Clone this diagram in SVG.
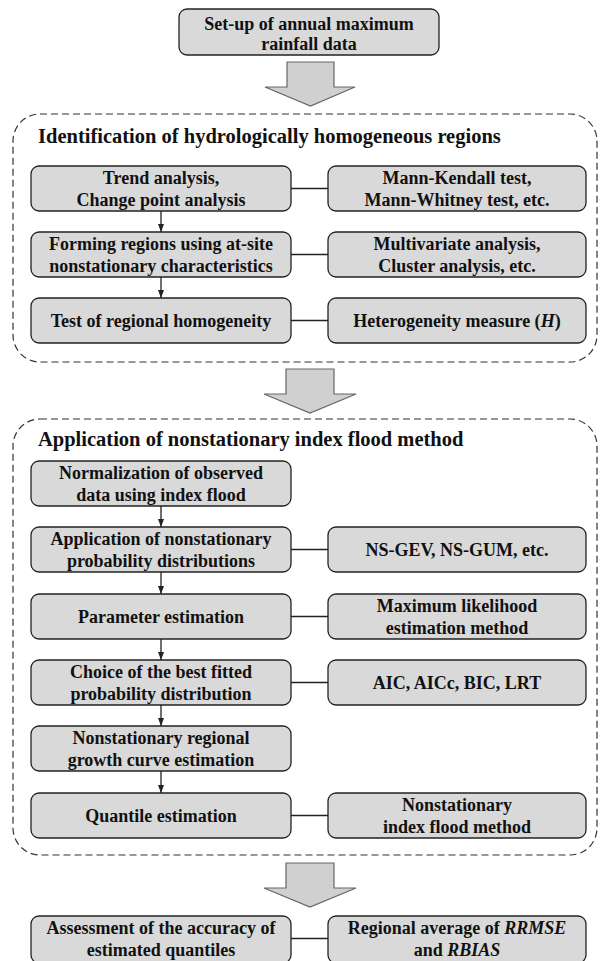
<svg xmlns="http://www.w3.org/2000/svg" width="608" height="961" viewBox="0 0 608 961">
<style>
text{font-family:"Liberation Serif","Times New Roman",serif;font-weight:bold;font-size:18px;fill:#111;text-anchor:middle}
.title{font-size:20.5px;text-anchor:start}
.box{fill:#d9d9d9;stroke:#222;stroke-width:1.3}
.cont{fill:none;stroke:#333;stroke-width:1.2;stroke-dasharray:7 4}
.blk{fill:#d0d0d0;stroke:#666;stroke-width:1.2}
.ln{stroke:#222;stroke-width:1.3;fill:none}
.ar{stroke:#222;stroke-width:1.3;fill:none;marker-end:url(#ah)}
.it{font-style:italic}
</style>
<defs>
<marker id="ah" markerWidth="8" markerHeight="8" viewBox="0 0 8 8" refX="8" refY="4" orient="auto" markerUnits="userSpaceOnUse">
<path d="M0,1 L8,4 L0,7 Z" fill="#222"/>
</marker>
</defs>

<g id="containers">
<rect id="region1" class="cont" x="13" y="114" width="584" height="248" rx="27"/>
<rect id="region2" class="cont" x="13" y="419" width="584" height="436" rx="27"/>
<text class="title" x="38" y="143">Identification of hydrologically homogeneous regions</text>
<text class="title" x="38" y="446">Application of nonstationary index flood method</text>
</g>

<g id="block-arrows">
<path class="blk" d="M287,62 H334 V87 H355 L310.5,106 L265,87 H287 Z"/>
<path class="blk" d="M286,369 H334 V394 H356 L310,413 L264,394 H286 Z"/>
<path class="blk" d="M286,863 H334 V888 H356 L310,907 L264,888 H286 Z"/>
</g>

<g id="connectors">
<line class="ar" x1="161" y1="211" x2="161" y2="232"/>
<line class="ar" x1="161" y1="277" x2="161" y2="298"/>
<line class="ar" x1="161" y1="506" x2="161" y2="527"/>
<line class="ar" x1="161" y1="572" x2="161" y2="594"/>
<line class="ar" x1="161" y1="639" x2="161" y2="660"/>
<line class="ar" x1="161" y1="705" x2="161" y2="726"/>
<line class="ar" x1="161" y1="771" x2="161" y2="793"/>
<line class="ln" x1="291" y1="188.5" x2="328" y2="188.5"/>
<line class="ln" x1="291" y1="254.5" x2="328" y2="254.5"/>
<line class="ln" x1="291" y1="320.5" x2="328" y2="320.5"/>
<line class="ln" x1="291" y1="549.5" x2="328" y2="549.5"/>
<line class="ln" x1="291" y1="616.5" x2="328" y2="616.5"/>
<line class="ln" x1="291" y1="682.5" x2="328" y2="682.5"/>
<line class="ln" x1="291" y1="815.5" x2="328" y2="815.5"/>
<line class="ln" x1="291" y1="938.5" x2="328" y2="938.5"/>
</g>

<g id="n-setup">
<rect class="box" x="179" y="9" width="260" height="46" rx="8"/>
<text x="309" y="30">Set-up of annual maximum</text>
<text x="309" y="50">rainfall data</text>
</g>

<g id="n-trend">
<rect class="box" x="31" y="166" width="260" height="45" rx="8"/>
<text x="161" y="184">Trend analysis,</text>
<text x="161" y="206">Change point analysis</text>
</g>
<g id="n-mk">
<rect class="box" x="328" y="166" width="258" height="45" rx="8"/>
<text x="457" y="184">Mann-Kendall test,</text>
<text x="457" y="206">Mann-Whitney test, etc.</text>
</g>
<g id="n-forming">
<rect class="box" x="31" y="232" width="260" height="45" rx="8"/>
<text x="161" y="250">Forming regions using at-site</text>
<text x="161" y="272">nonstationary characteristics</text>
</g>
<g id="n-multi">
<rect class="box" x="328" y="232" width="258" height="45" rx="8"/>
<text x="457" y="250">Multivariate analysis,</text>
<text x="457" y="272">Cluster analysis, etc.</text>
</g>
<g id="n-test">
<rect class="box" x="31" y="298" width="260" height="45" rx="8"/>
<text x="161" y="327">Test of regional homogeneity</text>
</g>
<g id="n-hetero">
<rect class="box" x="328" y="298" width="258" height="45" rx="8"/>
<text x="457" y="327">Heterogeneity measure (<tspan class="it">H</tspan>)</text>
</g>

<g id="n-norm">
<rect class="box" x="31" y="461" width="260" height="45" rx="8"/>
<text x="161" y="479">Normalization of observed</text>
<text x="161" y="501">data using index flood</text>
</g>
<g id="n-appl">
<rect class="box" x="31" y="527" width="260" height="45" rx="8"/>
<text x="161" y="545">Application of nonstationary</text>
<text x="161" y="567">probability distributions</text>
</g>
<g id="n-nsgev">
<rect class="box" x="328" y="527" width="258" height="45" rx="8"/>
<text x="457" y="556">NS-GEV, NS-GUM, etc.</text>
</g>
<g id="n-param">
<rect class="box" x="31" y="594" width="260" height="45" rx="8"/>
<text x="161" y="623">Parameter estimation</text>
</g>
<g id="n-mle">
<rect class="box" x="328" y="594" width="258" height="45" rx="8"/>
<text x="457" y="612">Maximum likelihood</text>
<text x="457" y="634">estimation method</text>
</g>
<g id="n-choice">
<rect class="box" x="31" y="660" width="260" height="45" rx="8"/>
<text x="161" y="678">Choice of the best fitted</text>
<text x="161" y="700">probability distribution</text>
</g>
<g id="n-aic">
<rect class="box" x="328" y="660" width="258" height="45" rx="8"/>
<text x="457" y="689">AIC, AICc, BIC, LRT</text>
</g>
<g id="n-growth">
<rect class="box" x="31" y="726" width="260" height="45" rx="8"/>
<text x="161" y="744">Nonstationary regional</text>
<text x="161" y="766">growth curve estimation</text>
</g>
<g id="n-quantile">
<rect class="box" x="31" y="793" width="260" height="45" rx="8"/>
<text x="161" y="822">Quantile estimation</text>
</g>
<g id="n-nsif">
<rect class="box" x="328" y="793" width="258" height="45" rx="8"/>
<text x="457" y="811">Nonstationary</text>
<text x="457" y="833">index flood method</text>
</g>

<g id="n-assess">
<rect class="box" x="31" y="916" width="260" height="47" rx="8"/>
<text x="161" y="934">Assessment of the accuracy of</text>
<text x="161" y="956">estimated quantiles</text>
</g>
<g id="n-regavg">
<rect class="box" x="328" y="916" width="258" height="47" rx="8"/>
<text x="457" y="934">Regional average of <tspan class="it">RRMSE</tspan></text>
<text x="457" y="956">and <tspan class="it">RBIAS</tspan></text>
</g>
</svg>
